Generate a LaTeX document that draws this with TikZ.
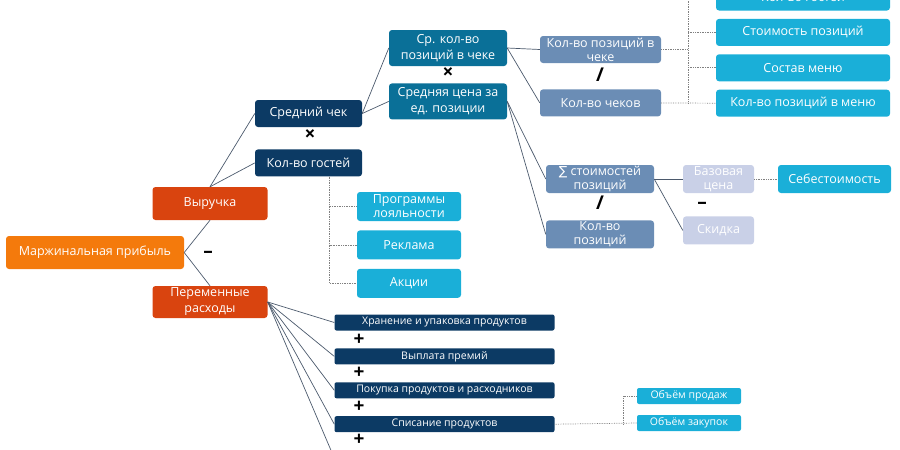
\documentclass[tikz,border=0pt]{standalone}
\usepackage{fontspec}
\setmainfont{Open Sans}
\newfontfamily\symfont{DejaVu Sans}
\usetikzlibrary{positioning}

\definecolor{mporange}{HTML}{F47A0C}
\definecolor{revred}{HTML}{D9440F}
\definecolor{navy}{HTML}{0C3A64}
\definecolor{chkteal}{HTML}{0A7098}
\definecolor{steel}{HTML}{6B8DB5}
\definecolor{sky}{HTML}{1AAFD8}
\definecolor{lilac}{HTML}{C9D0E7}
\definecolor{linegray}{HTML}{4B596C}

\begin{document}
\begin{tikzpicture}[
  x=1pt, y=-1pt,
  node distance=8pt and 8pt,
  box/.style={rounded corners=3pt, align=center, text=white, inner sep=0pt, font=\fontsize{12.5}{16}\selectfont},
  lvl0/.style={box, fill=mporange, minimum width=178pt, minimum height=33pt},
  lvl1/.style={box, fill=revred, minimum width=115pt, minimum height=33pt},
  lvl2/.style={box, fill=navy, minimum width=107pt, minimum height=27pt},
  lvl3/.style={box, fill=chkteal, minimum width=118pt, minimum height=36pt},
  lvl4/.style={box, fill=steel, minimum width=121pt, minimum height=27pt, font=\fontsize{12.5}{14}\selectfont},
  leaf/.style={box, fill=sky, minimum width=174pt, minimum height=27pt},
  pale/.style={box, fill=lilac, minimum width=71pt, minimum height=28pt, font=\fontsize{12.5}{14}\selectfont},
  bar/.style={box, fill=navy, minimum width=220pt, minimum height=16pt, rounded corners=2pt, font=\fontsize{10.5}{12}\selectfont},
  tag/.style={box, fill=sky, minimum width=104pt, minimum height=16pt, rounded corners=2pt, font=\fontsize{10.5}{12}\selectfont},
  op/.style={inner sep=0pt, font=\fontsize{19}{19}\selectfont\bfseries},
  link/.style={draw=linegray, line width=0.7pt},
  dots/.style={draw=gray, densely dotted, line width=0.7pt}
]
\useasboundingbox (0,0) rectangle (900,450);
\clip (0,0) rectangle (900,450);

% left part
\node[lvl0] (mp) at (95,252.5) {Маржинальная прибыль};
\node[lvl1] (vr) at (210,203.5) {Выручка};
\node[lvl1, minimum height=32pt] (pr) at (210,302) {Переменные\\расходы};
\node[lvl2] (sch) at (308.5,113.5) {Средний чек};
\node[lvl2, below=22pt of sch] (kg) {Кол-во гостей};

% average check
\node[lvl3] (srk) at (448,48) {Ср. кол-во\\позиций в чеке};
\node[lvl3, below=17pt of srk] (sc) {Средняя цена за\\ед. позиции};
\node[lvl4] (kpc) at (600.5,49.5) {Кол-во позиций в\\чеке};
\node[lvl4, below=26pt of kpc] (kch) {Кол-во чеков};
\node[leaf] (kg2) at (803,-3) {Кол-во гостей};
\node[leaf, below=of kg2] (sp) {Стоимость позиций};
\node[leaf, below=of sp] (sm) {Состав меню};
\node[leaf, below=of sm] (kpm) {Кол-во позиций в меню};
\node[lvl4, minimum width=108pt, minimum height=28pt] (sum) at (600,179) {{\symfont ∑} стоимостей\\позиций};
\node[lvl4, minimum width=108pt, minimum height=28pt, below=27pt of sum] (kp) {Кол-во\\позиций};
\node[pale] (bc) at (718.5,179) {Базовая\\цена};
\node[pale, below=23pt of bc] (sk) {Скидка};
\node[leaf, minimum width=113pt, minimum height=28pt] (seb) at (834.5,179) {Себестоимость};

% guests
\node[leaf, minimum width=104pt, minimum height=29pt, font=\fontsize{12.5}{14}\selectfont] (pl) at (409,206.5) {Программы\\лояльности};
\node[leaf, minimum width=104pt, minimum height=29pt, below=9pt of pl] (rk) {Реклама};
\node[leaf, minimum width=104pt, minimum height=29pt, below=9pt of rk] (ak) {Акции};

% variable costs
\node[bar] (hr) at (444.5,322.5) {Хранение и упаковка продуктов};
\node[bar, below=17.5pt of hr] (vp) {Выплата премий};
\node[bar, below=17.5pt of vp] (pk) {Покупка продуктов и расходников};
\node[bar, below=17.5pt of pk] (sps) {Списание продуктов};
\node[bar, below=17.5pt of sps] (b5) {};
\node[tag] (opr) at (689,396) {Объём продаж};
\node[tag] (oz) at (689,423) {Объём закупок};

% operators
\node[op] (m1) at (310,135) {×};
\node[op] (m2) at (448,73) {×};
\node[op] (d1) at (600,75) {/};
\node[op] (d2) at (600,203) {/};
\node[op] (s1) at (702,205) {–};
\node[op] (s2) at (208,254) {–};
\foreach \y in {340,373,407,440}
  \node[op] at (359,\y) {+};

% links
\draw[link] (mp.east) -- (vr.south);
\draw[link] (mp.east) -- (pr.north);
\draw[link] (vr.north) -- (sch.west);
\draw[link] (vr.north) -- (kg.west);
\draw[link] (sch.east) -- (srk.west);
\draw[link] (sch.east) -- (sc.west);
\draw[link] (srk.east) -- (kpc.west);
\draw[link] (srk.east) -- (kch.west);
\draw[link] (sc.east) -- (sum.west);
\draw[link] (sc.east) -- (kp.west);
\draw[link] (sum.east) -- (bc.west);
\draw[link] (sum.east) -- (sk.west);
\foreach \b in {hr,vp,pk,sps,b5}
  \draw[link] (pr.east) -- (\b.west);

% dotted links
\coordinate (tr) at (688,0);
\coordinate (jn) at (623,0);
\draw[dots] ([xshift=21pt]kg.south) |- (pl.west);
\draw[dots] ([xshift=21pt]kg.south) |- (rk.west);
\draw[dots] ([xshift=21pt]kg.south) |- (ak.west);
\draw[dots] (kpc.east) -- (kpc.east -| tr);
\draw[dots] (kch.east) -- (kpm.west);
\draw[dots] (kpm.west -| tr) -- (kg2.west -| tr) -- (kg2.west);
\draw[dots] (sp.west -| tr) -- (sp.west);
\draw[dots] (sm.west -| tr) -- (sm.west);
\draw[dots] (bc.east) -- (seb.west);
\draw[dots] (sps.east) -- (oz.west);
\draw[dots] (sps.east -| jn) |- (opr.west);
\end{tikzpicture}
\end{document}
